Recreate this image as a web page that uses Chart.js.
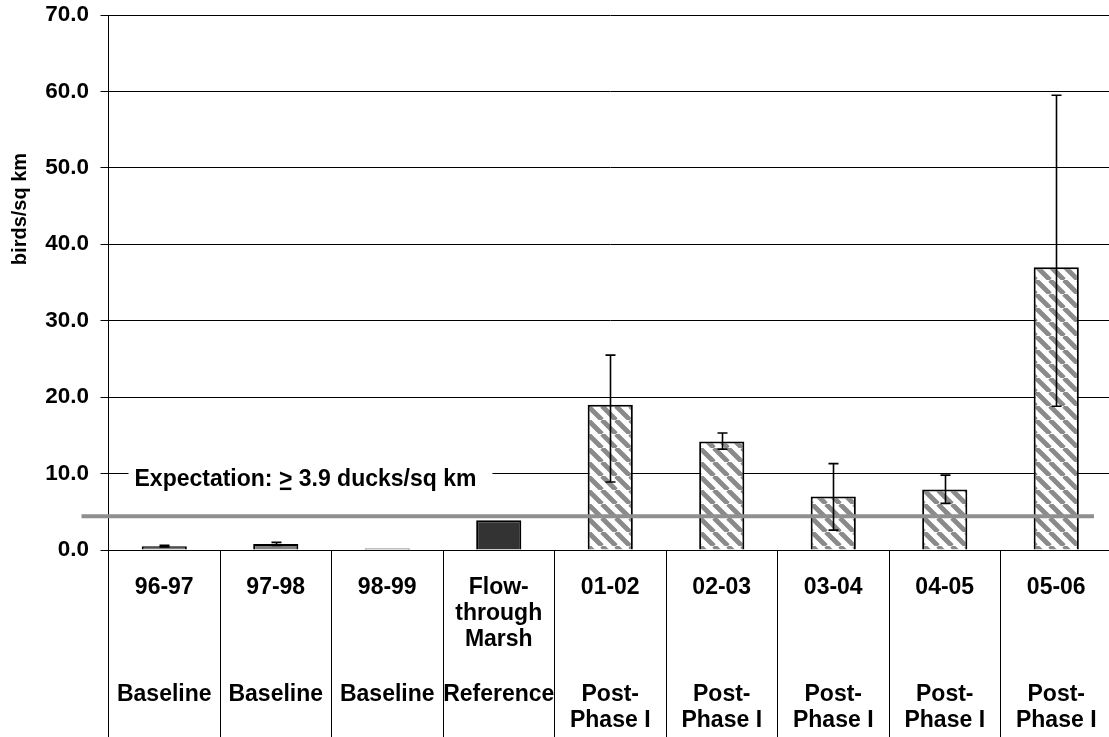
<!DOCTYPE html>
<html><head><meta charset="utf-8">
<script src="https://cdn.jsdelivr.net/npm/chart.js@4"></script>
<style>html,body{margin:0;padding:0;overflow:hidden;background:#fff}#wrap{width:1112px;height:737px}</style>
</head><body><div id="wrap"><canvas id="c" width="1112" height="737"></canvas></div>
<script>
// ---- data ----
const categories = ["96-97","97-98","98-99","Flow-through Marsh","01-02","02-03","03-04","04-05","05-06"];
const yearLines = [["96-97"],["97-98"],["98-99"],["Flow-","through","Marsh"],["01-02"],["02-03"],["03-04"],["04-05"],["05-06"]];
const groupLines = [["Baseline"],["Baseline"],["Baseline"],["Reference"],["Post-","Phase I"],["Post-","Phase I"],["Post-","Phase I"],["Post-","Phase I"],["Post-","Phase I"]];
const density = [0.5, 0.8, 0.2, 3.9, 19.0, 14.2, 7.0, 7.9, 37.0];
const errLow  = [0.4, 0.6, null, null, 8.9, 13.2, 2.6, 6.1, 18.8];
const errHigh = [0.6, 1.0, null, null, 25.5, 15.3, 11.3, 9.8, 59.5];
const yTicks = [0, 10, 20, 30, 40, 50, 60, 70];
const expectationLevel = 4.4;
const expectationParts = ["Expectation: ", ">", " 3.9 ducks/sq km"];
const yTitle = "birds/sq km";

// ---- styles ----
const FONT = "'Liberation Sans', Arial, sans-serif";
function hatch(){
  const p = 14, c = document.createElement('canvas');
  c.width = p; c.height = p;
  const g = c.getContext('2d');
  g.fillStyle = '#fff'; g.fillRect(0,0,p,p);
  g.strokeStyle = '#8a8a8a'; g.lineWidth = 4.8;
  g.beginPath();
  for (const x0 of [-p, 0, p]) { g.moveTo(x0, 0); g.lineTo(x0 + p, p); }
  g.stroke();
  return g.createPattern(c, 'repeat');
}
const hatchPat = hatch();
const fills = groupLines.map(g => g[0] === 'Baseline' ? '#808080' : g[0] === 'Reference' ? '#333333' : hatchPat);

const overlay = {
  id: 'overlay',
  afterDatasetsDraw(chart) {
    const {ctx, chartArea: ca, scales: {x, y}} = chart;
    ctx.save();
    // expectation line
    const ey = y.getPixelForValue(expectationLevel);
    ctx.strokeStyle = '#8f8f8f'; ctx.lineWidth = 4;
    ctx.beginPath(); ctx.moveTo(ca.left - 27, ey); ctx.lineTo(ca.right - 18, ey); ctx.stroke();
    // error bars
    ctx.strokeStyle = '#000'; ctx.lineWidth = 1.6;
    density.forEach((v, i) => {
      if (errLow[i] == null) return;
      const cx = Math.round(x.getPixelForValue(i)) + 0.5;
      const yl = y.getPixelForValue(errLow[i]), yh = y.getPixelForValue(errHigh[i]);
      ctx.beginPath();
      ctx.moveTo(cx, yl); ctx.lineTo(cx, yh);
      ctx.moveTo(cx - 5, yl); ctx.lineTo(cx + 5, yl);
      ctx.moveTo(cx - 5, yh); ctx.lineTo(cx + 5, yh);
      ctx.stroke();
    });
    // expectation label
    ctx.font = 'bold 23px ' + FONT;
    const ty = y.getPixelForValue(10) + 12;
    let tx = ca.left + 26;
    const w = expectationParts.reduce((s, t) => s + ctx.measureText(t).width, 0);
    ctx.fillStyle = '#fff';
    ctx.fillRect(ca.left + 20, ty - 22, w + 22, 30);
    ctx.fillStyle = '#000'; ctx.textBaseline = 'alphabetic'; ctx.textAlign = 'left';
    expectationParts.forEach((t, k) => {
      const tw = ctx.measureText(t).width;
      ctx.fillText(t, tx, ty);
      if (k === 1) { ctx.fillRect(tx + 1, ty + 2, tw - 2, 2.5); }
      tx += tw;
    });
    ctx.restore();
  },
  afterDraw(chart) {
    const {ctx, chartArea: ca, scales: {x}} = chart;
    ctx.save();
    ctx.fillStyle = '#000'; ctx.textAlign = 'center'; ctx.textBaseline = 'alphabetic';
    ctx.font = 'bold 23px ' + FONT;
    categories.forEach((c, i) => {
      const cx = x.getPixelForValue(i);
      yearLines[i].forEach((t, k) => ctx.fillText(t, cx, ca.bottom + 43.5 + k * 26));
      groupLines[i].forEach((t, k) => ctx.fillText(t, cx, ca.bottom + 151 + k * 26));
    });
    // y title
    ctx.font = 'bold 20px ' + FONT;
    ctx.translate(20, 209); ctx.rotate(-Math.PI / 2);
    ctx.textBaseline = 'middle';
    ctx.fillText(yTitle, 0, 0);
    ctx.restore();
  }
};

new Chart(document.getElementById('c'), {
  type: 'bar',
  data: {
    labels: categories,
    datasets: [{
      data: density,
      backgroundColor: fills,
      borderColor: '#000',
      borderWidth: 2,
      barPercentage: 0.405,
      categoryPercentage: 1
    }]
  },
  options: {
    responsive: false,
    animation: false,
    events: [],
    layout: { padding: { top: 15, right: 0, bottom: 0, left: 0 } },
    plugins: { legend: { display: false }, tooltip: { enabled: false } },
    scales: {
      x: {
        offset: true,
        grid: { offset: true, drawOnChartArea: false, drawTicks: true, tickLength: 187, color: '#000', lineWidth: 1 },
        border: { color: '#000', width: 1 },
        ticks: { display: false }
      },
      y: {
        min: 0, max: 70,
        afterBuildTicks: s => { s.ticks = yTicks.map(v => ({ value: v })); },
        afterFit: s => { s.width = 108.5; s.paddingTop = 0; s.paddingBottom = 0; },
        grid: { color: '#000', lineWidth: 1, tickLength: 8 },
        border: { color: '#000', width: 1 },
        ticks: {
          padding: 11.5,
          color: '#000',
          font: { family: FONT, size: 22.5, weight: 'bold' },
          callback: v => Number(v).toFixed(1)
        }
      }
    }
  },
  plugins: [overlay]
});
</script>
</body></html>
